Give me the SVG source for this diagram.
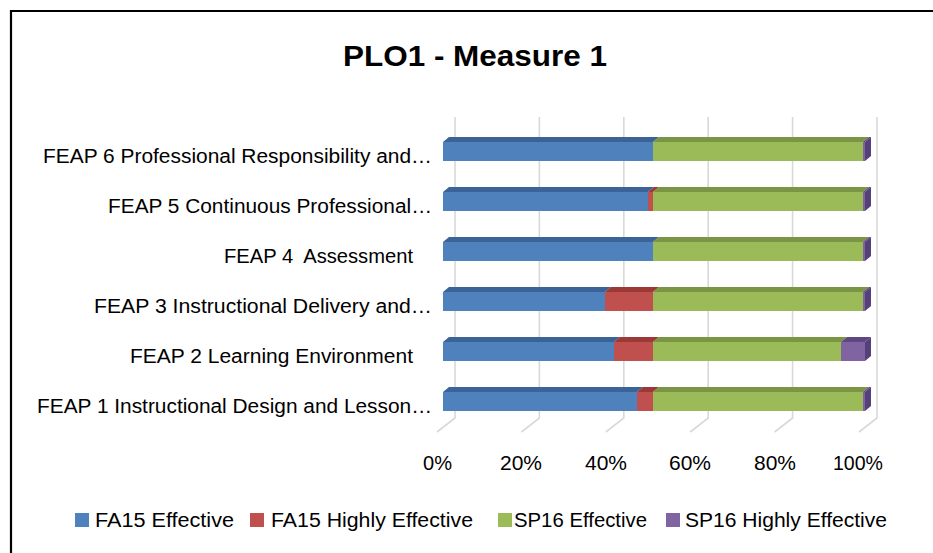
<svg xmlns="http://www.w3.org/2000/svg" width="933" height="553" viewBox="0 0 933 553">
<style>
text{font-family:"Liberation Sans",Arial,sans-serif;fill:#000}
.title{font-size:30px;font-weight:bold}
.cat{font-size:19.5px;text-anchor:end}
.ax{font-size:20px;text-anchor:middle}
.leg{font-size:20px}
.grid{stroke:#D9D9D9;stroke-width:1.6;fill:none}
.fb{fill:#4F81BD}.tb{fill:#3B6397}
.fr{fill:#C0504D}.tr{fill:#9A3936}
.fg{fill:#9BBB59}.tg{fill:#7A9543}
.fp{fill:#8064A2}.tp{fill:#5E4882}.sp{fill:#55407A}
</style>
<rect x="0" y="0" width="933" height="553" fill="#fff"/>
<path d="M11,553 V11 H933" fill="none" stroke="#000" stroke-width="2.2"/>
<text class="title" x="343" y="66" textLength="264" lengthAdjust="spacingAndGlyphs">PLO1 - Measure 1</text>

<g id="connectors">
<path class="grid" d="M455,117 V418 L437,432 M539.4,117 V418 L521.4,432 M623.8,117 V418 L605.8,432 M708.2,117 V418 L690.2,432 M792.6,117 V418 L774.6,432 M877,117 V418 L859,432"/>
</g>

<g id="feap6">
<text class="cat" x="432" y="163" textLength="389" lengthAdjust="spacingAndGlyphs">FEAP 6 Professional Responsibility and…</text>
<polygon class="tb" points="443,142 449,137 659,137 653,142"/>
<polygon class="tg" points="653,142 659,137 869,137 863,142"/>
<polygon class="tp" points="863,142 869,137 871,137 865,142"/>
<rect class="fb" x="443" y="142" width="210" height="19"/>
<rect class="fg" x="653" y="142" width="210" height="19"/>
<rect class="fp" x="863" y="142" width="2" height="19"/>
<polygon class="sp" points="865,142 871,137 871,156 865,161"/>
</g>

<g id="feap5">
<text class="cat" x="432" y="213" textLength="324" lengthAdjust="spacingAndGlyphs">FEAP 5 Continuous Professional…</text>
<polygon class="tb" points="443,192 449,187 654,187 648,192"/>
<polygon class="tr" points="648,192 654,187 659,187 653,192"/>
<polygon class="tg" points="653,192 659,187 869,187 863,192"/>
<polygon class="tp" points="863,192 869,187 871,187 865,192"/>
<rect class="fb" x="443" y="192" width="205" height="19"/>
<rect class="fr" x="648" y="192" width="5" height="19"/>
<rect class="fg" x="653" y="192" width="210" height="19"/>
<rect class="fp" x="863" y="192" width="2" height="19"/>
<polygon class="sp" points="865,192 871,187 871,206 865,211"/>
</g>

<g id="feap4">
<text class="cat" x="413" y="263" textLength="189" lengthAdjust="spacingAndGlyphs">FEAP 4&#160; Assessment</text>
<polygon class="tb" points="443,242 449,237 659,237 653,242"/>
<polygon class="tg" points="653,242 659,237 869,237 863,242"/>
<polygon class="tp" points="863,242 869,237 871,237 865,242"/>
<rect class="fb" x="443" y="242" width="210" height="19"/>
<rect class="fg" x="653" y="242" width="210" height="19"/>
<rect class="fp" x="863" y="242" width="2" height="19"/>
<polygon class="sp" points="865,242 871,237 871,256 865,261"/>
</g>

<g id="feap3">
<text class="cat" x="432" y="313" textLength="338" lengthAdjust="spacingAndGlyphs">FEAP 3 Instructional Delivery and…</text>
<polygon class="tb" points="443,292 449,287 611,287 605,292"/>
<polygon class="tr" points="605,292 611,287 659,287 653,292"/>
<polygon class="tg" points="653,292 659,287 869,287 863,292"/>
<polygon class="tp" points="863,292 869,287 871,287 865,292"/>
<rect class="fb" x="443" y="292" width="162" height="19"/>
<rect class="fr" x="605" y="292" width="48" height="19"/>
<rect class="fg" x="653" y="292" width="210" height="19"/>
<rect class="fp" x="863" y="292" width="2" height="19"/>
<polygon class="sp" points="865,292 871,287 871,306 865,311"/>
</g>

<g id="feap2">
<text class="cat" x="413" y="363" textLength="283" lengthAdjust="spacingAndGlyphs">FEAP 2 Learning Environment</text>
<polygon class="tb" points="443,342 449,337 620,337 614,342"/>
<polygon class="tr" points="614,342 620,337 659,337 653,342"/>
<polygon class="tg" points="653,342 659,337 847,337 841,342"/>
<polygon class="tp" points="841,342 847,337 871,337 865,342"/>
<rect class="fb" x="443" y="342" width="171" height="19"/>
<rect class="fr" x="614" y="342" width="39" height="19"/>
<rect class="fg" x="653" y="342" width="188" height="19"/>
<rect class="fp" x="841" y="342" width="24" height="19"/>
<polygon class="sp" points="865,342 871,337 871,356 865,361"/>
</g>

<g id="feap1">
<text class="cat" x="432" y="413" textLength="395" lengthAdjust="spacingAndGlyphs">FEAP 1 Instructional Design and Lesson…</text>
<polygon class="tb" points="443,392 449,387 643,387 637,392"/>
<polygon class="tr" points="637,392 643,387 659,387 653,392"/>
<polygon class="tg" points="653,392 659,387 869,387 863,392"/>
<polygon class="tp" points="863,392 869,387 871,387 865,392"/>
<rect class="fb" x="443" y="392" width="194" height="19"/>
<rect class="fr" x="637" y="392" width="16" height="19"/>
<rect class="fg" x="653" y="392" width="210" height="19"/>
<rect class="fp" x="863" y="392" width="2" height="19"/>
<polygon class="sp" points="865,392 871,387 871,406 865,411"/>
</g>

<g id="axis">
<text class="ax" x="437.5" y="470" textLength="29" lengthAdjust="spacingAndGlyphs">0%</text>
<text class="ax" x="521" y="470" textLength="42" lengthAdjust="spacingAndGlyphs">20%</text>
<text class="ax" x="606" y="470" textLength="42" lengthAdjust="spacingAndGlyphs">40%</text>
<text class="ax" x="690" y="470" textLength="42" lengthAdjust="spacingAndGlyphs">60%</text>
<text class="ax" x="775" y="470" textLength="42" lengthAdjust="spacingAndGlyphs">80%</text>
<text class="ax" x="858" y="470" textLength="50" lengthAdjust="spacingAndGlyphs">100%</text>
</g>

<g id="legend">
<rect class="fb" x="75" y="513" width="14" height="14"/>
<text class="leg" x="95" y="527" textLength="139" lengthAdjust="spacingAndGlyphs">FA15 Effective</text>
<rect class="fr" x="250" y="513" width="14" height="14"/>
<text class="leg" x="271" y="527" textLength="202" lengthAdjust="spacingAndGlyphs">FA15 Highly Effective</text>
<rect class="fg" x="498" y="513" width="14" height="14"/>
<text class="leg" x="514" y="527" textLength="133" lengthAdjust="spacingAndGlyphs">SP16 Effective</text>
<rect class="fp" x="666" y="513" width="14" height="14"/>
<text class="leg" x="685" y="527" textLength="202" lengthAdjust="spacingAndGlyphs">SP16 Highly Effective</text>
</g>
</svg>
